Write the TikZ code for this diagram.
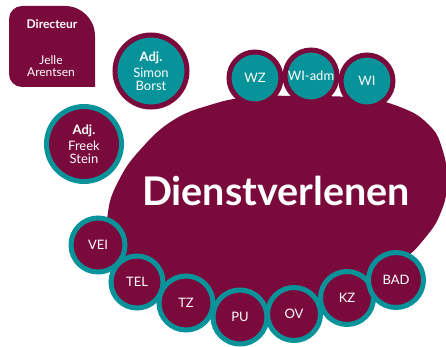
\documentclass[tikz,border=0pt]{standalone}
\usepackage{fontspec}
\setmainfont{Lato}
\usepackage{tikz}
\usetikzlibrary{positioning}
\definecolor{wijnrood}{RGB}{122,10,60}
\definecolor{petrol}{RGB}{8,147,155}

\begin{document}
\begin{tikzpicture}[x=1pt,y=-1pt,
	rondrood/.style={circle, fill=wijnrood, draw=petrol, line width=5pt, text=white, align=center, inner sep=0pt, font=\fontsize{13}{13}\selectfont},
	rondpetrol/.style={circle, fill=petrol, draw=wijnrood, line width=5pt, text=white, align=center, inner sep=0pt, font=\fontsize{13}{13}\selectfont}]
		\useasboundingbox (0,0) rectangle (446,347);
		% directeur
		\fill[wijnrood] (95,87) -- (22,87) arc[start angle=90, end angle=180, radius=13]
			-- (9,19) arc[start angle=180, end angle=270, radius=13]
			-- (65,6) arc[start angle=270, end angle=360, radius=30] -- cycle;
		\node[text=white, font=\fontsize{12}{12}\selectfont\bfseries] (dir) at (52,24) {Directeur};
		\node[text=white, align=center, font=\fontsize{12}{11.5}\selectfont] (jelle) at (51,66) {Jelle\\Arentsen};
		
		% dienstverlenen
		\fill[wijnrood] plot[smooth cycle, tension=0.75] coordinates {(300,96) (360,98) (400,107) (428,124) (442,148) (447,182) (441,212) (425,238) (400,262) (360,285) (300,305) (240,312) (180,300) (135,275) (110,245) (108,212) (119,180) (140,150) (172,121) (210,105) (250,97)};
		\node[text=white, font=\fontsize{39.5}{39.5}\selectfont\bfseries] (dienst) at (276,191) {Dienstverlenen};
		
		\draw (151,71) node[rondpetrol, minimum size=72pt] (simon) {\textbf{Adj.}\\[3pt]Simon\\Borst}
		(84,144) node[rondrood, minimum size=75pt] (freek) {\textbf{Adj.}\\[3pt]Freek\\Stein}
		(255,78) node[rondpetrol, minimum size=52pt] (wz) {WZ}
		(367,81) node[rondpetrol, minimum size=52pt] (wi) {WI}
		(311,76) node[rondpetrol, minimum size=52pt] (wiadm) {WI-adm}
		(98,245) node[rondrood, minimum size=54pt] (vei) {VEI}
		(137,282) node[rondrood, minimum size=52pt] (tel) {TEL}
		(186,303) node[rondrood, minimum size=54pt] (tz) {TZ}
		(240,317) node[rondrood, minimum size=54pt] (pu) {PU}
		(294,314) node[rondrood, minimum size=53pt] (ov) {OV}
		(347,298) node[rondrood, minimum size=53pt] (kz) {KZ}
		(396,280) node[rondrood, minimum size=55pt] (bad) {BAD};
	\end{tikzpicture}
\end{document}
